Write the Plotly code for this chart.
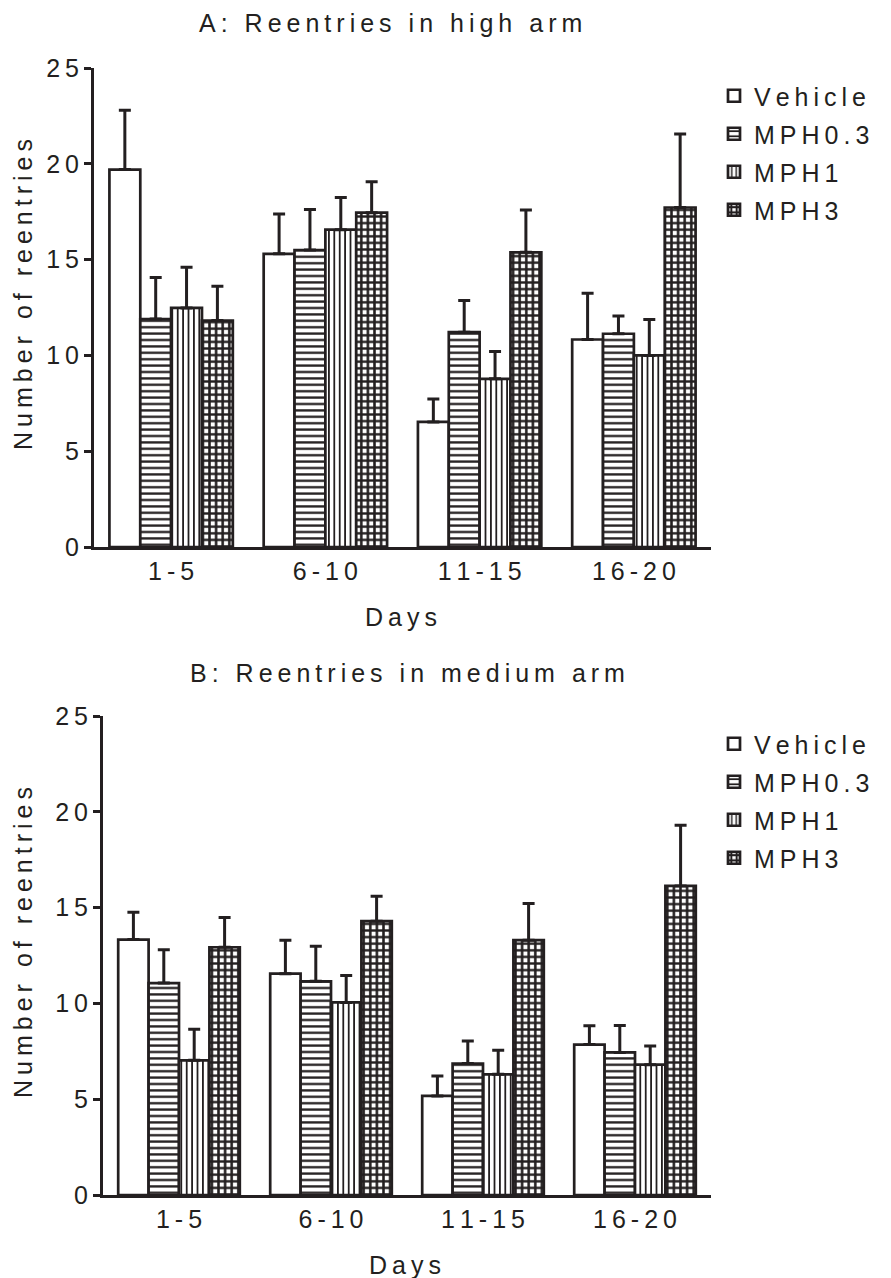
import plotly.graph_objects as go

# Treatment groups and day blocks
SERIES = ["Vehicle", "MPH0.3", "MPH1", "MPH3"]
DAYS = ["1-5", "6-10", "11-15", "16-20"]
Y_TICKS = [0, 5, 10, 15, 20, 25]

# Panel A: reentries in high arm (mean and SEM)
high_vehicle = [19.7, 15.3, 6.53, 10.83]
high_mph03 = [11.9, 15.5, 11.21, 11.13]
high_mph1 = [12.48, 16.56, 8.78, 10.0]
high_mph3 = [11.82, 17.45, 15.38, 17.72]
high_vehicle_sem = [3.1, 2.08, 1.2, 2.42]
high_mph03_sem = [2.17, 2.12, 1.65, 0.92]
high_mph1_sem = [2.12, 1.68, 1.42, 1.88]
high_mph3_sem = [1.79, 1.61, 2.21, 3.83]

# Panel B: reentries in medium arm (mean and SEM)
med_vehicle = [13.33, 11.55, 5.17, 7.85]
med_mph03 = [11.06, 11.15, 6.86, 7.44]
med_mph1 = [7.03, 10.05, 6.3, 6.8]
med_mph3 = [12.93, 14.29, 13.3, 16.13]
med_vehicle_sem = [1.43, 1.75, 1.04, 0.99]
med_mph03_sem = [1.74, 1.83, 1.18, 1.41]
med_mph1_sem = [1.62, 1.4, 1.25, 0.98]
med_mph3_sem = [1.55, 1.3, 1.92, 3.17]

INK = "#231f20"
FONT = "Liberation Sans, Arial, sans-serif"
FS = 25
W, H = 891, 1278


def tracked(s):
    """Wide letter tracking, as in the original figure typesetting."""
    return "\u2009".join(s)


PATTERNS = {
    "Vehicle": dict(shape=""),
    "MPH0.3": dict(shape="-", size=6.4, solidity=0.36),
    "MPH1": dict(shape="|", size=5.4, solidity=0.34),
    "MPH3": dict(shape="+", size=6.6, solidity=0.62),
}

panels = [
    dict(means=[high_vehicle, high_mph03, high_mph1, high_mph3],
         sems=[high_vehicle_sem, high_mph03_sem, high_mph1_sem, high_mph3_sem],
         xaxis="x", yaxis="y", legend="legend", tag="A"),
    dict(means=[med_vehicle, med_mph03, med_mph1, med_mph3],
         sems=[med_vehicle_sem, med_mph03_sem, med_mph1_sem, med_mph3_sem],
         xaxis="x2", yaxis="y2", legend="legend2", tag="B"),
]

fig = go.Figure()
for p in panels:
    for name, vals, sem in zip(SERIES, p["means"], p["sems"]):
        pat = dict(PATTERNS[name])
        if pat["shape"]:
            pat.update(fgcolor=INK, bgcolor="white", fillmode="replace")
        fig.add_trace(go.Bar(
            x=DAYS, y=vals, name=tracked(name),
            xaxis=p["xaxis"], yaxis=p["yaxis"], legend=p["legend"],
            legendgroup=p["tag"] + name,
            marker=dict(color="white", line=dict(color=INK, width=2.7), pattern=pat),
            error_y=dict(type="data", array=sem, arrayminus=[0] * len(sem),
                         symmetric=False, color=INK, thickness=3, width=6),
        ))


def px_x(v):
    return v / W


def px_y(v):
    return 1 - v / H


axis_common = dict(showline=True, linewidth=3, linecolor=INK, showgrid=False,
                   zeroline=False, automargin=False,
                   tickfont=dict(family=FONT, size=FS, color=INK))

xcommon = dict(axis_common, type="category", categoryorder="array", categoryarray=DAYS,
               tickvals=DAYS, ticktext=[tracked(d) for d in DAYS], ticks="",
               range=[-0.5, 3.5])
ycommon = dict(axis_common, range=[0, 25], tickvals=Y_TICKS,
               ticktext=[tracked(str(t)) for t in Y_TICKS], ticks="outside",
               ticklen=7, tickwidth=3, tickcolor=INK)

legend_common = dict(xanchor="left", yanchor="top", traceorder="grouped", tracegroupgap=2.5,
                     font=dict(family=FONT, size=FS, color=INK), bgcolor="rgba(0,0,0,0)")

fig.update_layout(
    template="none",
    width=W, height=H, autosize=False,
    margin=dict(l=0, r=0, t=0, b=0, pad=0),
    paper_bgcolor="white", plot_bgcolor="white",
    barmode="group", bargap=0.2, bargroupgap=0.0,
    font=dict(family=FONT, size=FS, color=INK),
    xaxis=dict(xcommon, domain=[px_x(94), px_x(711)], anchor="y"),
    yaxis=dict(ycommon, domain=[px_y(547), px_y(68)], anchor="x"),
    xaxis2=dict(xcommon, domain=[px_x(103), px_x(711)], anchor="y2"),
    yaxis2=dict(ycommon, domain=[px_y(1195), px_y(716)], anchor="x2"),
    legend=dict(legend_common, x=px_x(714), y=px_y(73)),
    legend2=dict(legend_common, x=px_x(714), y=px_y(721)),
    showlegend=True,
)

labels = [
    ("A: Reentries in high arm", 390, 23, 0),
    ("B: Reentries in medium arm", 407, 673, 0),
    ("Days", 401, 617, 0),
    ("Days", 405, 1265, 0),
    ("Number of reentries", 23, 295, -90),
    ("Number of reentries", 23, 943, -90),
]
for text, cx, cy, ang in labels:
    fig.add_annotation(text=tracked(text), x=px_x(cx), y=px_y(cy), xref="paper", yref="paper",
                       xanchor="center", yanchor="middle", showarrow=False, textangle=ang,
                       font=dict(family=FONT, size=FS, color=INK))

fig.write_html("out.html")
